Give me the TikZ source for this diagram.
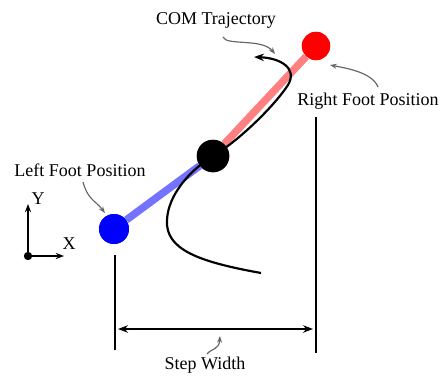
\documentclass[tikz,border=0pt]{standalone}
\usepackage{fontspec}
\setmainfont{Liberation Serif}
\usepackage{tikz}
\usetikzlibrary{arrows.meta}

\begin{document}
\begin{tikzpicture}[
  x=0.6pt, y=-0.6pt,
  foot/.style={circle, minimum size=#1, inner sep=0pt},
  label/.style={font=\fontsize{10.8}{13}\selectfont, inner sep=1pt},
  pointer/.style={draw=gray!80!black, line width=0.7pt, -{Stealth[length=4pt]}},
  mark line/.style={draw, line width=0.8pt},
  leg/.style={line width=4.5pt}
]
\useasboundingbox (0,0) rectangle (441,375);
% feet and centre of mass
\node[foot=18pt, fill=blue] (lfoot) at (114,229) {};
\node[foot=19.5pt, fill=black] (com) at (213,156) {};
\node[foot=17pt, fill=red] (rfoot) at (316,46) {};
\draw[leg, blue!55] (lfoot) -- (com);
\draw[leg, red!50] (com) -- (rfoot);
% COM trajectory
\coordinate (tstart) at (261,273);
\coordinate (tend) at (254,57);
\draw[line width=1.3pt, -{Stealth[length=6pt]}] (tstart)
  .. controls (200,262) and (165,250) .. (167,220)
  .. controls (168,195) and (190,170) .. (213,156)
  .. controls (240,140) and (275,105) .. (288,85)
  .. controls (298,68) and (280,58) .. (tend);
\node[foot=18pt, fill=blue] at (lfoot) {};
\node[foot=19.5pt, fill=black] at (com) {};
\node[foot=17pt, fill=red] at (rfoot) {};
% labels
\node[label] (comlab) at (216,20) {COM Trajectory};
\node[label] (rlab) at (368,101) {Right Foot Position};
\node[label] (llab) at (80,170) {Left Foot Position};
\node[label] (swlab) at (205,365) {Step Width};
\draw[pointer] (223,37) .. controls (226,46) and (262,38) .. (275,54);
\draw[pointer] (378,87) .. controls (372,72) and (345,68) .. (330,65);
\draw[pointer] (83,182) .. controls (88,200) and (95,200) .. (105,213);
\draw[pointer] (207,354) .. controls (212,348) and (219,350) .. (220,336);
% step width
\coordinate (lbot) at (115,350);
\coordinate (ltop) at (115,255);
\coordinate (rbot) at (316,353);
\coordinate (rtop) at (316,117);
\draw[mark line] (ltop) -- (lbot);
\draw[mark line] (rtop) -- (rbot);
\coordinate (sw1) at (118,329);
\coordinate (sw2) at (313,329);
\draw[mark line, {Stealth[length=6pt]}-{Stealth[length=6pt]}] (sw1) -- (sw2);
% axes
\node[circle, fill=black, minimum size=5pt, inner sep=0pt] (origin) at (28,256) {};
\coordinate (yend) at (28,204);
\coordinate (xend) at (64,256);
\draw[line width=1pt, -{Stealth[length=5pt]}] (origin.center) -- (yend);
\draw[line width=1pt, -{Stealth[length=5pt]}] (origin.center) -- (xend);
\node[label] (ylab) at (38,199) {Y};
\node[label] (xlab) at (69,244) {X};
\end{tikzpicture}
\end{document}
